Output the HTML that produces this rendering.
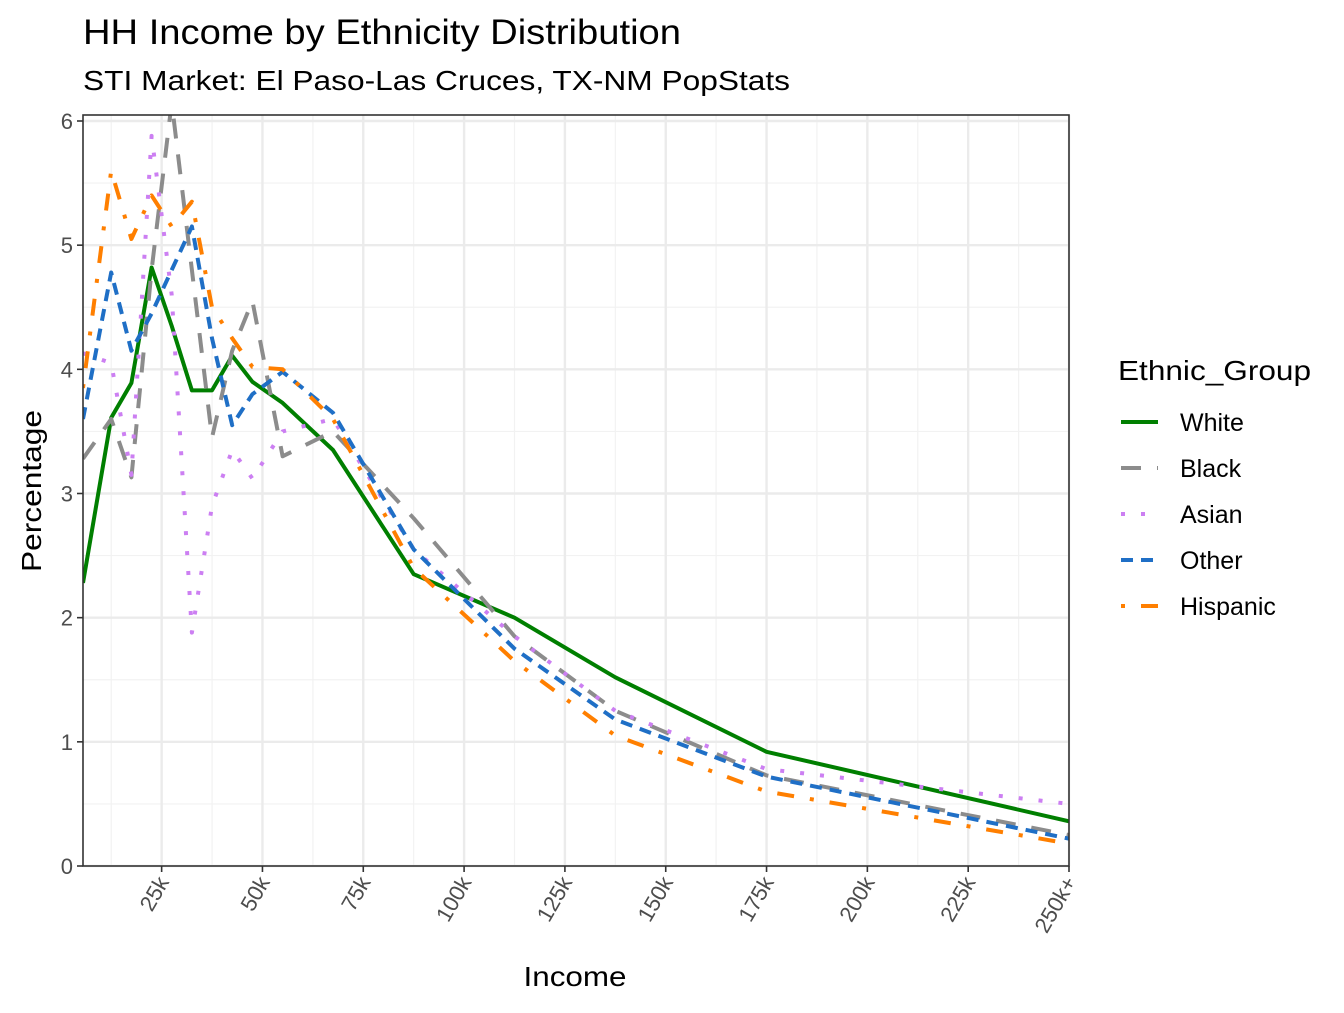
<!DOCTYPE html>
<html><head><meta charset="utf-8"><style>
body{margin:0;background:#fff;font-family:"Liberation Sans",Arial,sans-serif}
svg text{font-family:"Liberation Sans",Arial,sans-serif}
</style></head><body>
<svg id="chart" width="1344" height="1008" viewBox="0 0 1344 1008" xmlns="http://www.w3.org/2000/svg">
<rect width="1344" height="1008" fill="#fff"/>
<text x="83" y="44" font-size="35" textLength="598" lengthAdjust="spacingAndGlyphs" fill="#000">HH Income by Ethnicity Distribution</text>
<text x="83" y="90" font-size="28" textLength="707" lengthAdjust="spacingAndGlyphs" fill="#000">STI Market: El Paso-Las Cruces, TX-NM PopStats</text>
<g id="grid"></g>
<g id="series"></g>
<rect x="83" y="115" width="986" height="751" fill="none" stroke="#333" stroke-width="1.6"/>
<g id="axes"></g>
<text x="575" y="986" font-size="28" textLength="103" lengthAdjust="spacingAndGlyphs" text-anchor="middle" fill="#000">Income</text>
<text transform="translate(41,491) rotate(-90)" font-size="28" textLength="162" lengthAdjust="spacingAndGlyphs" text-anchor="middle" fill="#000">Percentage</text>
<g id="legend">
<text x="1118" y="380" font-size="28" textLength="193" lengthAdjust="spacingAndGlyphs" fill="#000">Ethnic_Group</text>
</g>
</svg>
<script>
const incomes = [5.5,12.5,17.5,22.5,27.5,32.5,37.5,42.5,47.5,55,67.5,87.5,112.5,137.5,175,250];
const seriesNames = ["White","Black","Asian","Other","Hispanic"];
const whiteVals = [2.28,3.61,3.89,4.82,4.35,3.83,3.83,4.11,3.9,3.73,3.35,2.35,2.0,1.52,0.92,0.36];
const blackVals = [3.28,3.6,3.13,4.8,6.15,4.8,3.45,4.15,4.55,3.3,3.5,2.8,1.85,1.25,0.73,0.25];
const asianVals = [4.13,4.05,3.15,5.88,4.6,1.88,2.9,3.35,3.12,3.5,3.6,2.55,1.85,1.25,0.78,0.5];
const otherVals = [3.6,4.78,4.15,4.45,4.8,5.15,4.25,3.55,3.8,3.98,3.65,2.55,1.75,1.18,0.72,0.22];
const hispanicVals = [3.85,5.6,5.05,5.4,5.15,5.35,4.5,4.25,4.02,4.0,3.6,2.4,1.65,1.05,0.6,0.18];
const xTicks = [25,50,75,100,125,150,175,200,225,250];
const xTickLabels = ["25k","50k","75k","100k","125k","150k","175k","200k","225k","250k+"];
const yTicks = [0,1,2,3,4,5,6];

const NS="http://www.w3.org/2000/svg";
const X0=83,X1=1069,Y0=866,Y1=121;
const xs=v=>X0+(v-5.5)*(X1-X0)/(250-5.5);
const ys=v=>Y0-v*(Y0-Y1)/6;
function mk(tag,attrs,parent){const e=document.createElementNS(NS,tag);for(const k in attrs)e.setAttribute(k,attrs[k]);parent.appendChild(e);return e;}
const grid=document.getElementById('grid'),axes=document.getElementById('axes'),ser=document.getElementById('series'),leg=document.getElementById('legend');
for(let i=0;i<yTicks.length-1;i++){const v=yTicks[i]+0.5;const l=mk('line',{x1:X0,x2:X1,y1:ys(v),y2:ys(v),stroke:'#f2f2f2','stroke-width':1.2},grid);

}
for(let v=12.5;v<250;v+=25){if(xs(v)<X0)continue;const l=mk('line',{x1:xs(v),x2:xs(v),y1:115,y2:866,stroke:'#f2f2f2','stroke-width':1.2},grid);

}
yTicks.forEach(v=>{const l=mk('line',{x1:X0,x2:X1,y1:ys(v),y2:ys(v),stroke:'#ebebeb','stroke-width':2.4},grid);


const t=mk('line',{x1:X0-6,x2:X0,y1:ys(v),y2:ys(v),stroke:'#333','stroke-width':1.6},axes);


const tx=mk('text',{x:X0-10,y:ys(v)+8,'font-size':22,fill:'#4d4d4d','text-anchor':'end'},axes);tx.textContent=v;

});
xTicks.forEach((v,i)=>{const l=mk('line',{x1:xs(v),x2:xs(v),y1:115,y2:866,stroke:'#ebebeb','stroke-width':2.4},grid);


const t=mk('line',{x1:xs(v),x2:xs(v),y1:866,y2:872,stroke:'#333','stroke-width':1.6},axes);


const tx=mk('text',{transform:`translate(${xs(v)+8},${882}) rotate(-60)`,'font-size':22,fill:'#4d4d4d','text-anchor':'end'},axes);tx.textContent=xTickLabels[i];

});
const colors=["#007f00","#8c8c8c","#cc7ff2","#1f6fc6","#ff7f00"];
const dashes=["","20,16","4,16","12,8","4,16,17,16"];
const allVals=[whiteVals,blackVals,asianVals,otherVals,hispanicVals];
const clip=mk('clipPath',{id:'pc'},ser);mk('rect',{x:X0,y:115,width:X1-X0,height:751},clip);
allVals.forEach((vals,s)=>{const d=vals.map((v,i)=>(i?'L':'M')+xs(incomes[i]).toFixed(1)+','+ys(v).toFixed(1)).join('');
const p=mk('path',{d:d,fill:'none',stroke:colors[s],'stroke-width':4,'stroke-dasharray':dashes[s],'stroke-linejoin':'round','clip-path':'url(#pc)'},ser);


const y=422+s*46;
const g=mk('g',{},leg);


mk('line',{x1:1121,x2:1158,y1:y,y2:y,stroke:colors[s],'stroke-width':4,'stroke-dasharray':dashes[s]},g);
const t=mk('text',{x:1180,y:y+9,'font-size':25,fill:'#000'},g);t.textContent=seriesNames[s];});
</script>
</body></html>
